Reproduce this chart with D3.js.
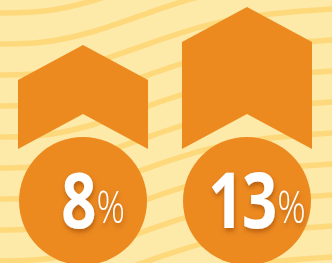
<!DOCTYPE html>
<html>
<head>
<meta charset="utf-8">
<script src="https://cdn.jsdelivr.net/npm/d3@7"></script>
<style>
  html, body { margin: 0; padding: 0; background: #fde9a8; }
  svg { display: block; }
</style>
</head>
<body>
<svg id="chart" width="332" height="263"></svg>
<script>
// data
var categories = ['a', 'b'];
var values = [8, 13];
var labels = ['8', '13'];

var width = 332, height = 263;
var orange = '#ec8a20';

var svg = d3.select('#chart');

// background waves (decorative)
var waveShape = [[0, 0], [40, 0], [90, -10], [150, -32], [210, -52], [270, -62], [332, -66]];
var waveStarts = d3.range(13, 350, 31);

var wave = d3.line()
	.x(function(d) { return d[0]; })
	.y(function(d) { return d[1]; })
	.curve(d3.curveBasis);

svg.append('rect')
	.attr('width', width)
	.attr('height', height)
	.attr('fill', '#fde9a8');

svg.append('g')
	.selectAll('path')
	.data(waveStarts)
	.enter()
		.append('path')
		.attr('d', function(y0) { return wave(waveShape.map(function(p) { return [p[0], p[1] + y0]; })); })
		.attr('fill', 'none')
		.attr('stroke', '#fdd97c')
		.attr('stroke-width', 5.5);

var defs = svg.append('defs');
defs.append('filter')
	.attr('id', 'shadow')
	.attr('x', '-30%').attr('y', '-30%')
	.attr('width', '160%').attr('height', '160%')
	.append('feDropShadow')
		.attr('dx', 1)
		.attr('dy', 3)
		.attr('stdDeviation', 2.5)
		.attr('flood-color', '#8a3a00')
		.attr('flood-opacity', 0.55);

// scales
var x = d3.scaleBand()
	.domain(categories)
	.range([18, 312])
	.paddingInner(0.207)
	.paddingOuter(0);

var y = d3.scaleLinear()
	.domain([0, 13])
	.range([141, 42]);

var base = 149, roof = 35, notch = 35;

var chevron = function(d, i) {
	var x0 = x(categories[i]), w = x.bandwidth(), cx = x0 + w / 2, top = y(d);
	return [
		[x0, top], [cx, top - roof], [x0 + w, top],
		[x0 + w, base], [cx, base - notch], [x0, base]
	];
};

svg.append('g')
	.selectAll('path')
	.data(values)
	.enter()
		.append('path')
		.attr('d', function(d, i) { return d3.line()(chevron(d, i)) + 'Z'; })
		.attr('fill', orange);

// circles with labels
var cy = 201, r = 64;

var badges = svg.append('g')
	.selectAll('g')
	.data(values)
	.enter()
		.append('g')
		.attr('transform', function(d, i) { return 'translate(' + (x(categories[i]) + x.bandwidth() / 2) + ',' + cy + ')'; });

badges.append('circle')
	.attr('r', r)
	.attr('fill', orange);

var label = badges.append('g')
	.attr('transform', 'translate(10,27) scale(0.8,1)')
	.append('text')
		.attr('text-anchor', 'middle')
		.attr('fill', '#fff')
		.attr('filter', 'url(#shadow)')
		.style('font-family', '"Open Sans", sans-serif');

label.append('tspan')
	.attr('font-size', 77)
	.attr('font-weight', 700)
	.attr('letter-spacing', -2)
	.text(function(d, i) { return labels[i]; });

label.append('tspan')
	.attr('font-size', 44)
	.attr('font-weight', 300)
	.attr('dx', 2)
	.attr('dy', -5)
	.text('%');
</script>
</body>
</html>
